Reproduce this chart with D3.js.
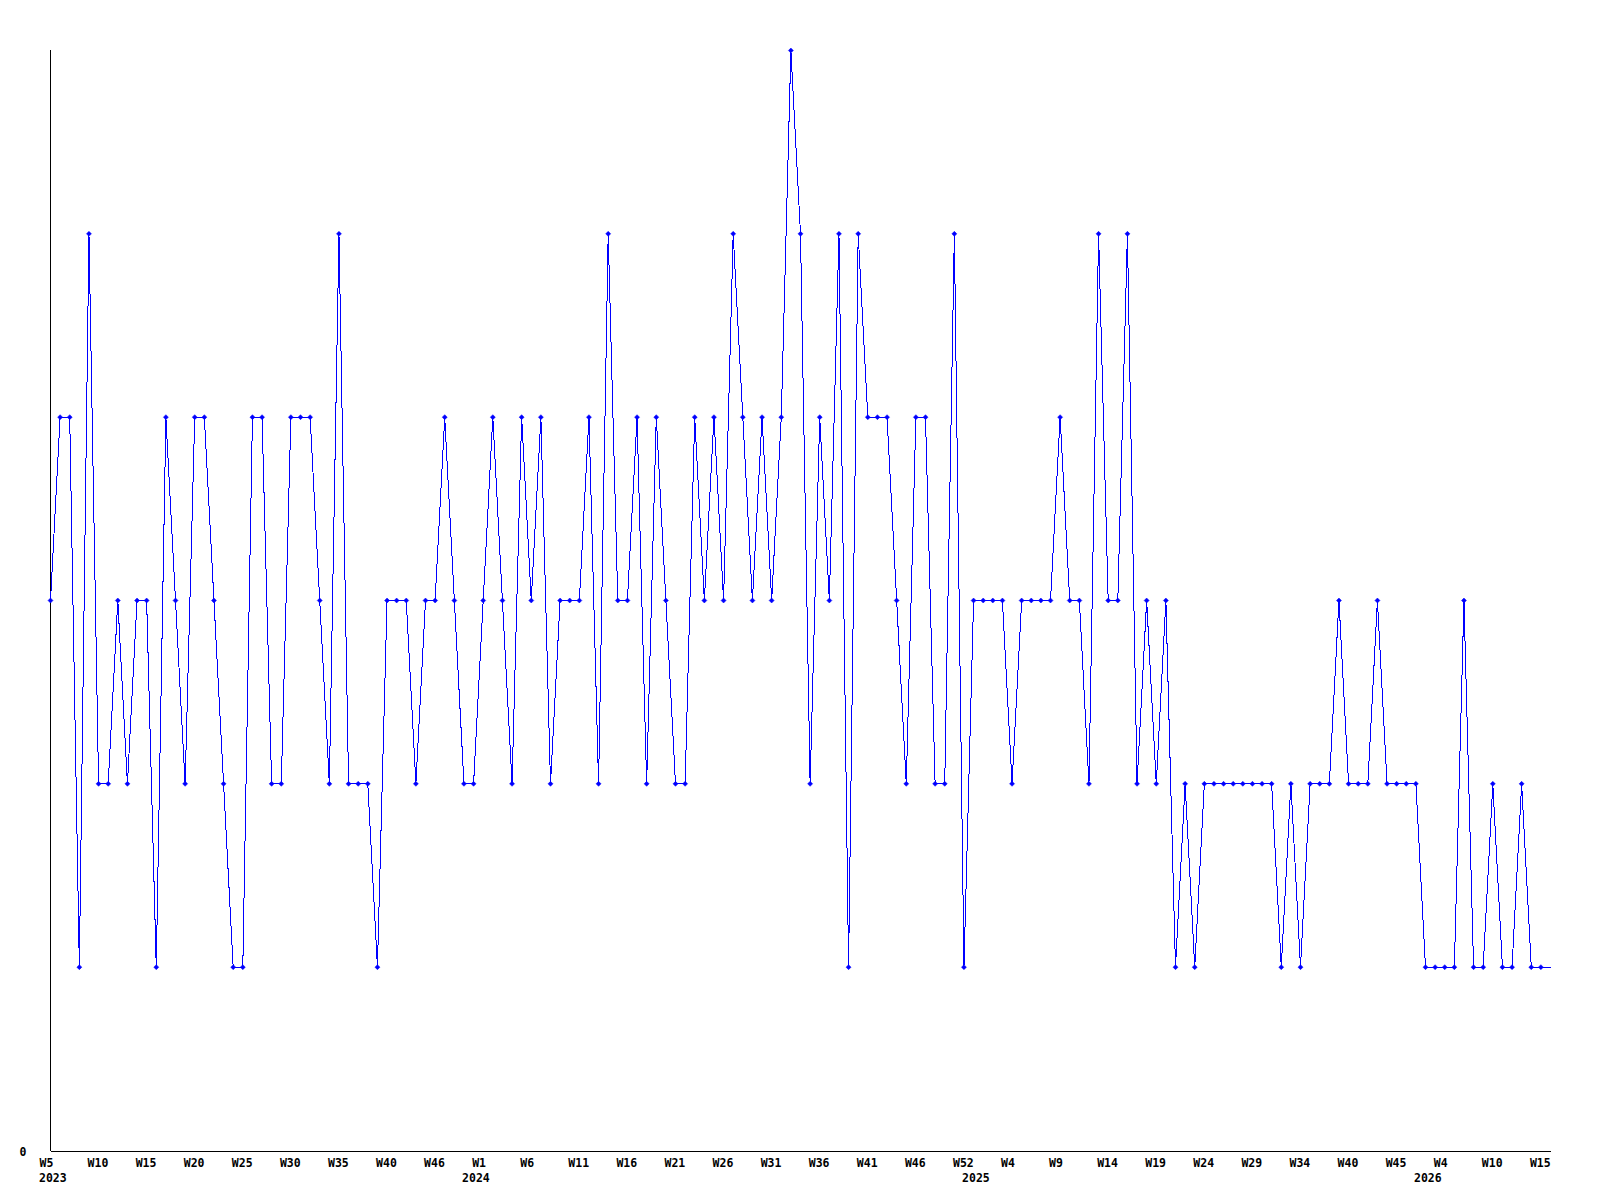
<!DOCTYPE html>
<html>
<head>
<meta charset="utf-8">
<script src="https://cdn.jsdelivr.net/npm/d3@7"></script>
<style>
  html, body { margin: 0; padding: 0; background: #fff; }
  svg text { font-family: "DejaVu Sans Mono", "Liberation Mono", monospace; font-weight: bold; font-size: 11.5px; fill: #000; }
</style>
</head>
<body>
<svg id="chart" width="1600" height="1200"></svg>
<script>
// Weekly values (one per point, evenly spaced)
const values = [
  3,4,4,1,5,2,2,3,2,3, 3,1,4,3,2,4,4,3,2,1, 1,4,4,2,2,4,4,4,3,2,
  5,2,2,2,1,3,3,3,2,3, 3,4,3,2,2,3,4,3,2,4, 3,4,2,3,3,3,4,2,5,3,
  3,4,2,4,3,2,2,4,3,4, 3,5,4,3,4,3,4,6,5,2, 4,3,5,1,5,4,4,4,3,2,
  4,4,2,2,5,1,3,3,3,3, 2,3,3,3,3,4,3,3,2,5, 3,3,5,2,3,2,3,1,2,1,
  2,2,2,2,2,2,2,2,1,2, 1,2,2,2,3,2,2,2,3,2, 2,2,2,1,1,1,1,3,1,1,
  2,1,1,2,1,1,1
];
// Tick labels, one every 5 points starting at the first point
const tickLabels = ["W5","W10","W15","W20","W25","W30","W35","W40","W46",
  "W1","W6","W11","W16","W21","W26","W31","W36","W41","W46","W52",
  "W4","W9","W14","W19","W24","W29","W34","W40","W45",
  "W4","W10","W15"];
const tickStep = 5;
// Year labels and the point index where each year begins
const years = ["2023","2024","2025","2026"];
const yearStart = [0, 44, 96, 143];
const yMax = 6;
const yTicks = [0];

const svg = d3.select("#chart");
const x = d3.scaleLinear().domain([0, values.length - 1]).range([50.5, 1550.5]);
const y = d3.scaleLinear().domain([0, yMax]).range([1150.5, 50.5]);

const tickIdx = tickLabels.map((_, i) => i * tickStep);

// X axis
const xAxis = d3.axisBottom(x)
  .tickValues(tickIdx)
  .tickSize(0)
  .tickSizeOuter(0)
  .tickFormat((d, i) => tickLabels[i]);
const gx = svg.append("g").attr("transform", `translate(0,${y(0)})`).call(xAxis);
gx.select(".domain").attr("stroke", "#000").attr("shape-rendering", "crispEdges");
gx.selectAll(".tick text")
  .attr("text-anchor", "start")
  .attr("x", -11.5)
  .attr("y", 16.5)
  .attr("dy", 0);
gx.attr("font-family", null).attr("font-size", null);

// Year labels
svg.append("g").selectAll("text")
  .data(years)
  .join("text")
  .attr("x", (d, i) => x(yearStart[i]) - 11.5)
  .attr("y", y(0) + 31)
  .text(d => d);

// Y axis
const yAxis = d3.axisLeft(y).tickValues(yTicks).tickSize(0).tickSizeOuter(0).tickFormat(d3.format("d"));
const gy = svg.append("g").attr("transform", `translate(${x(0)},0)`).call(yAxis);
gy.select(".domain").attr("stroke", "#000").attr("shape-rendering", "crispEdges")
  .attr("d", `M0,${y(yMax) - 1}V${y(0)}`);
gy.selectAll(".tick text").attr("x", -24).attr("y", 4.5).attr("dy", 0).attr("text-anchor", "end");
gy.attr("font-family", null).attr("font-size", null);

// Line
const line = d3.line().x((d, i) => x(i)).y(d => y(d));
svg.append("path")
  .datum(values)
  .attr("fill", "none")
  .attr("stroke", "#0000ff")
  .attr("stroke-width", 1)
  .attr("shape-rendering", "crispEdges")
  .attr("d", line);

// Markers (all but the last point)
svg.append("g").selectAll("path")
  .data(values.slice(0, -1))
  .join("path")
  .attr("transform", (d, i) => `translate(${x(i)},${y(d)})`)
  .attr("d", "M-2.5,0L0,-2.5L2.5,0L0,2.5Z")
  .attr("fill", "#0000ff")
  .attr("stroke", "#0000ff")
  .attr("stroke-width", 0.5);
</script>
</body>
</html>
